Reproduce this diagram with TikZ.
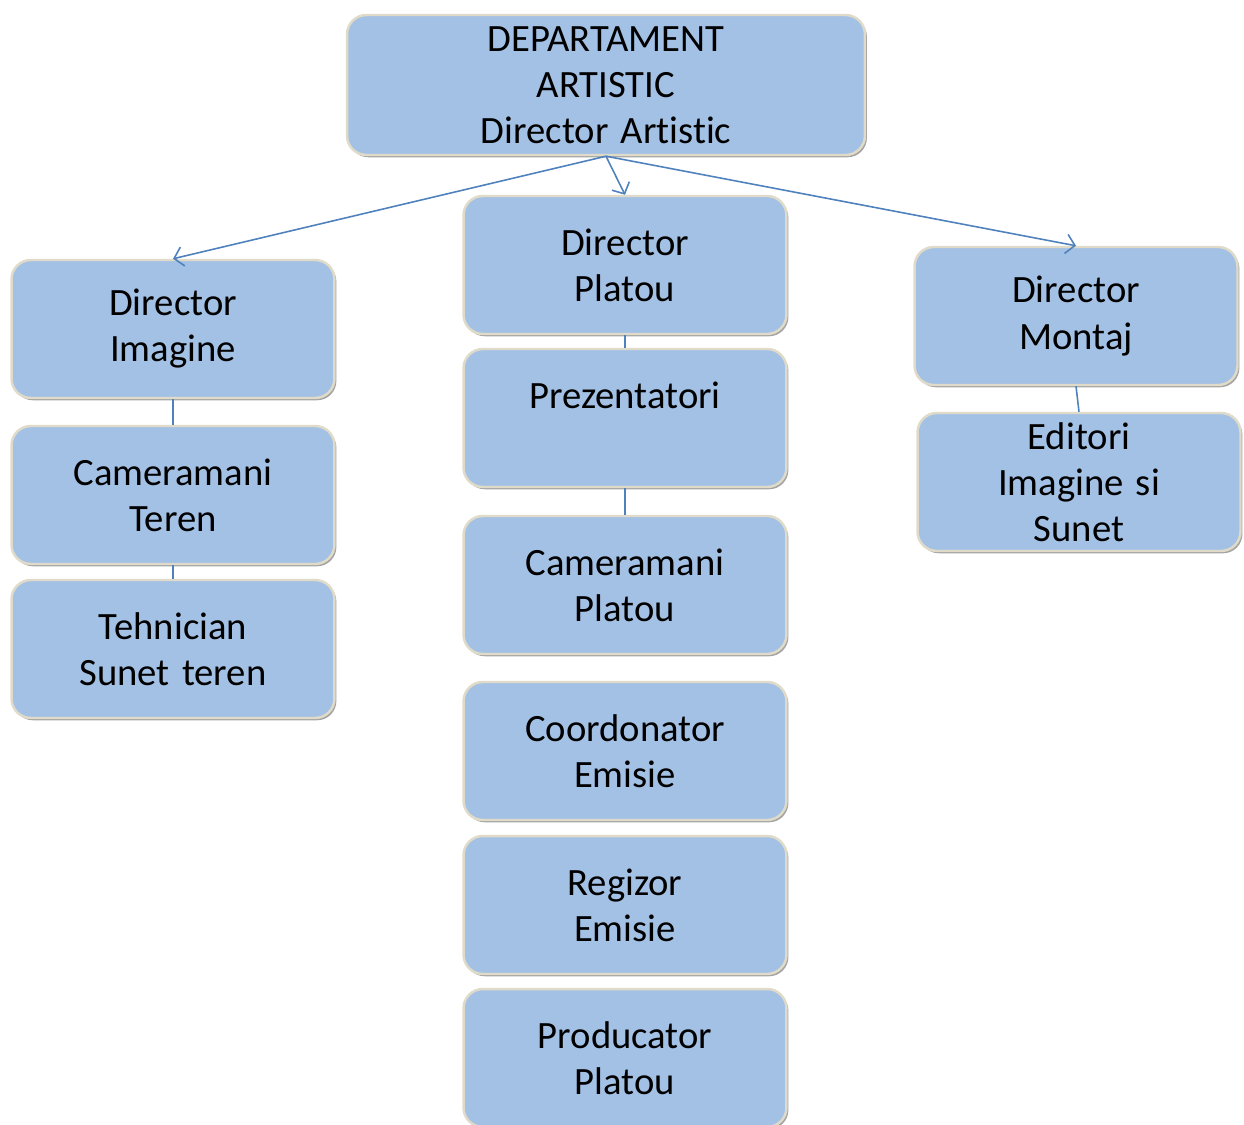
\documentclass[tikz,border=0pt]{standalone}
\usepackage{fontspec}
\setmainfont{Carlito}[RawFeature=-liga,WordSpace=1.4]
\usetikzlibrary{arrows.meta,shadows}
\definecolor{boxfill}{RGB}{163,193,229}
\definecolor{boxrim}{RGB}{224,218,200}
\definecolor{linkblue}{RGB}{79,129,189}

\begin{document}
\begin{tikzpicture}[x=0.02cm,y=-0.02cm]
      \useasboundingbox (0,0) rectangle (1244,1125);

      \begin{scope}[every node/.style={rectangle,rounded corners=11pt,fill=boxfill,draw=boxrim,line width=1.4pt,
          drop shadow={shadow xshift=1.1pt,shadow yshift=-1.3pt,fill=black!60,opacity=.6},
          minimum width=6.46cm,minimum height=2.76cm,align=center,inner sep=0pt,
          font=\fontsize{22}{26.2}\selectfont}]
        \node (1)  [minimum width=10.36cm,minimum height=2.8cm] at (606,85) {DEPARTAMENT\\ARTISTIC\\Director Artistic};
        \node (2)  at (173,329)  {Director\\Imagine};
        \node (3)  at (173,495)  {Cameramani\\Teren};
        \node (4)  at (173,649)  {Tehnician\\Sunet teren};
        \node (5)  at (625,265)  {Director\\Platou};
        \node (6)  at (625,418)  {Prezentatori\\~};
        \node (7)  at (625,585)  {Cameramani\\Platou};
        \node (8)  at (625,751)  {Coordonator\\Emisie};
        \node (9)  at (625,905)  {Regizor\\Emisie};
        \node (10) at (625,1058) {Producator\\Platou};
        \node (11) at (1076,316) {Director\\Montaj};
        \node (12) at (1079,482) {Editori\\Imagine si\\Sunet};
      \end{scope}

      \begin{scope}[every edge/.style={draw=linkblue,line width=0.9pt}]
        \path (1.south) edge[-{Straight Barb[length=5pt,width=11pt]}] (2.north);
        \path (1.south) edge[-{Straight Barb[length=5pt,width=11pt]}] (5.north);
        \path (1.south) edge[-{Straight Barb[length=5pt,width=11pt]}] (11.north);
        \path (2.south) edge (3.north);
        \path (3.south) edge (4.north);
        \path (5.south) edge (6.north);
        \path (6.south) edge (7.north);
        \path (11.south) edge (12.north);
      \end{scope}

    \end{tikzpicture}
\end{document}
